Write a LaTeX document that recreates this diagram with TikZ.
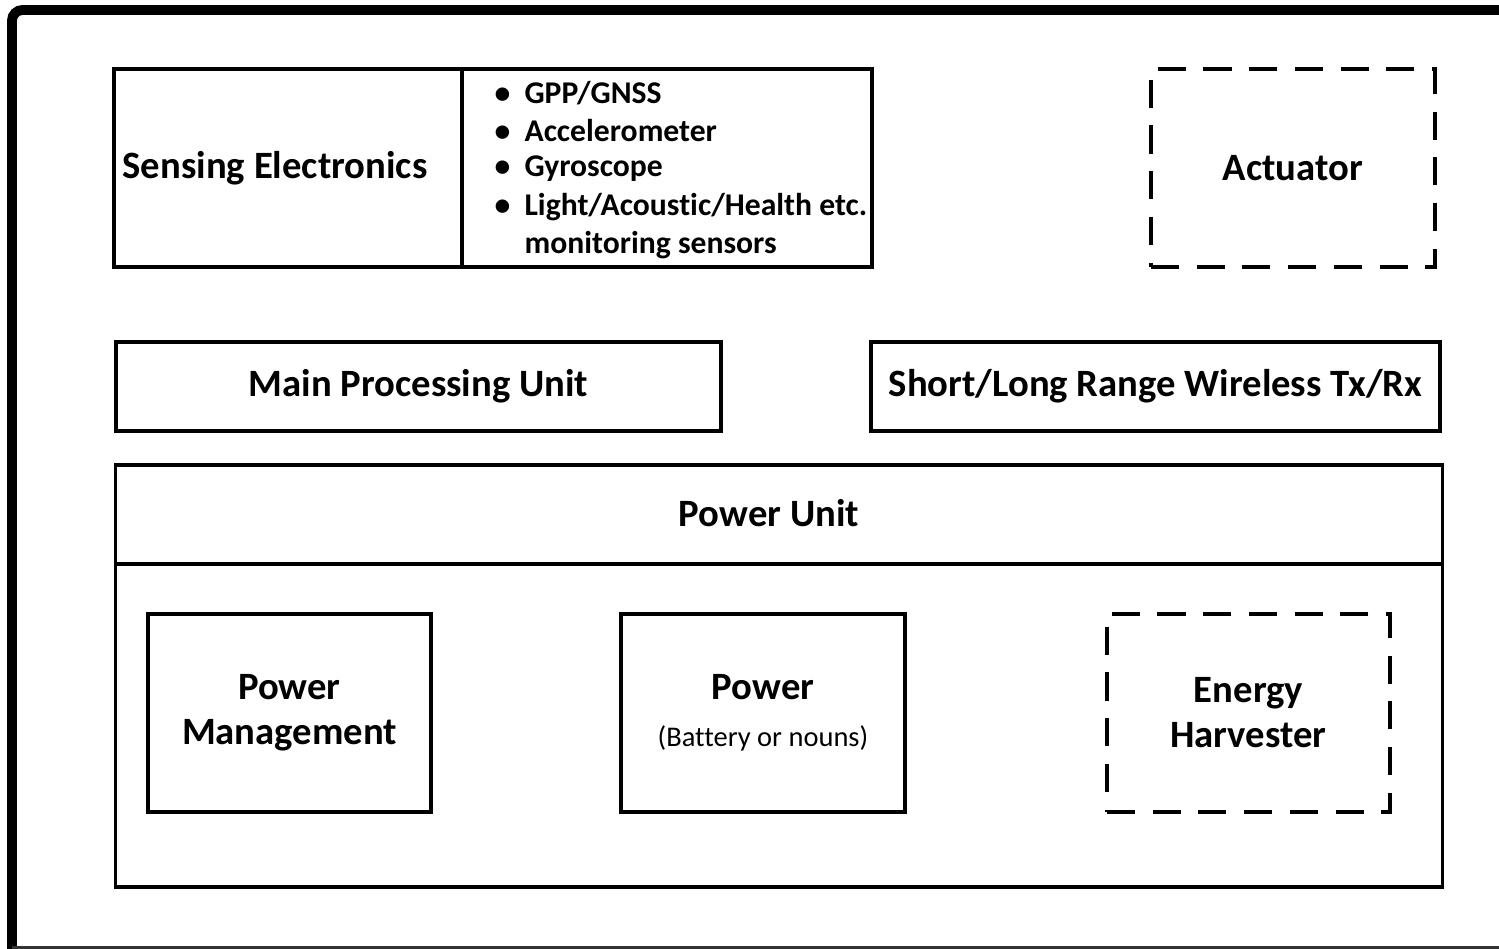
\documentclass[tikz,border=0pt]{standalone}
\usepackage{fontspec}
\setmainfont{Carlito}[Ligatures=NoCommon]
\usetikzlibrary{positioning,calc}
\newcommand{\subtxt}{\normalfont\fontsize{8.1}{9}\selectfont}

\begin{document}
\begin{tikzpicture}[
      x=0.01cm, y=-0.01cm,
      font=\fontsize{11}{12.8}\selectfont\bfseries,
      blk/.style={draw=black, line width=1pt, inner sep=0pt, outer sep=0pt},
      dashblk/.style={blk, dash pattern=on 8pt off 5pt},
      lbl/.style={align=center},
      sens/.style={anchor=west, inner sep=0pt, font=\fontsize{9}{10}\selectfont\bfseries}
    ]
    \useasboundingbox (0,0) rectangle (1499,949);
    % ---------------- outer frame ----------------
    \draw[line width=2.8pt, rounded corners=3pt] (12,949) -- (12,10) -- (1499,10);
    \draw[line width=0.6pt, black!80] (12,947.5) -- (1499,947.5);
    % ---------------- top row ----------------
    \node[blk, minimum width=3.48cm, minimum height=1.98cm] (SE) at (288,168) {};
    \node[anchor=west, inner sep=0pt] (SElbl) at (122,168) {Sensing Electronics};
    \node[blk, minimum width=4.10cm, minimum height=1.98cm] (SL) at (667,168) {};
    \node[sens] (s1) at (494,93) {\makebox[8.5pt][l]{\textbullet}GPP/GNSS};
    \node[sens] (s2) at (494,131) {\makebox[8.5pt][l]{\textbullet}Accelerometer};
    \node[sens] (s3) at (494,169) {\makebox[8.5pt][l]{\textbullet}Gyroscope};
    \node[sens] (s4) at (494,207) {\makebox[8.5pt][l]{\textbullet}Light/Acoustic/Health etc.};
    \node[sens] (s5) at (494,245) {\hspace*{8.5pt}monitoring sensors};
    \node[dashblk, minimum width=2.84cm, minimum height=1.98cm] (ACT) at (1293,168) {Actuator};
    % ---------------- middle row ----------------
    \node[blk, minimum width=6.05cm, minimum height=0.89cm] (MPU) at (418.5,386.5) {Main Processing Unit};
    \node[blk, minimum width=5.69cm, minimum height=0.89cm] (RF) at (1155.5,386.5) {Short/Long Range Wireless Tx/Rx};
    % ---------------- power unit ----------------
    \node[blk, minimum width=13.26cm, minimum height=4.22cm] (PU) at (779,676) {};
    \node[blk, minimum width=13.26cm, minimum height=0.99cm] (PUhdr) at (779,514.5) {};
    \node (PUlbl) at (769,513) {Power Unit};
    \node[blk, lbl, minimum width=2.83cm, minimum height=1.98cm] (PM) at (289.5,713) {Power\\Management};
    \node[blk, lbl, minimum width=2.84cm, minimum height=1.98cm] (PW) at (763,713) {Power\\[0.6pt]{\subtxt (Battery or nouns)}};
    \node[dashblk, lbl, minimum width=2.83cm, minimum height=1.98cm] (EH) at (1248.5,713) {Energy\\Harvester};
  \end{tikzpicture}
\end{document}
